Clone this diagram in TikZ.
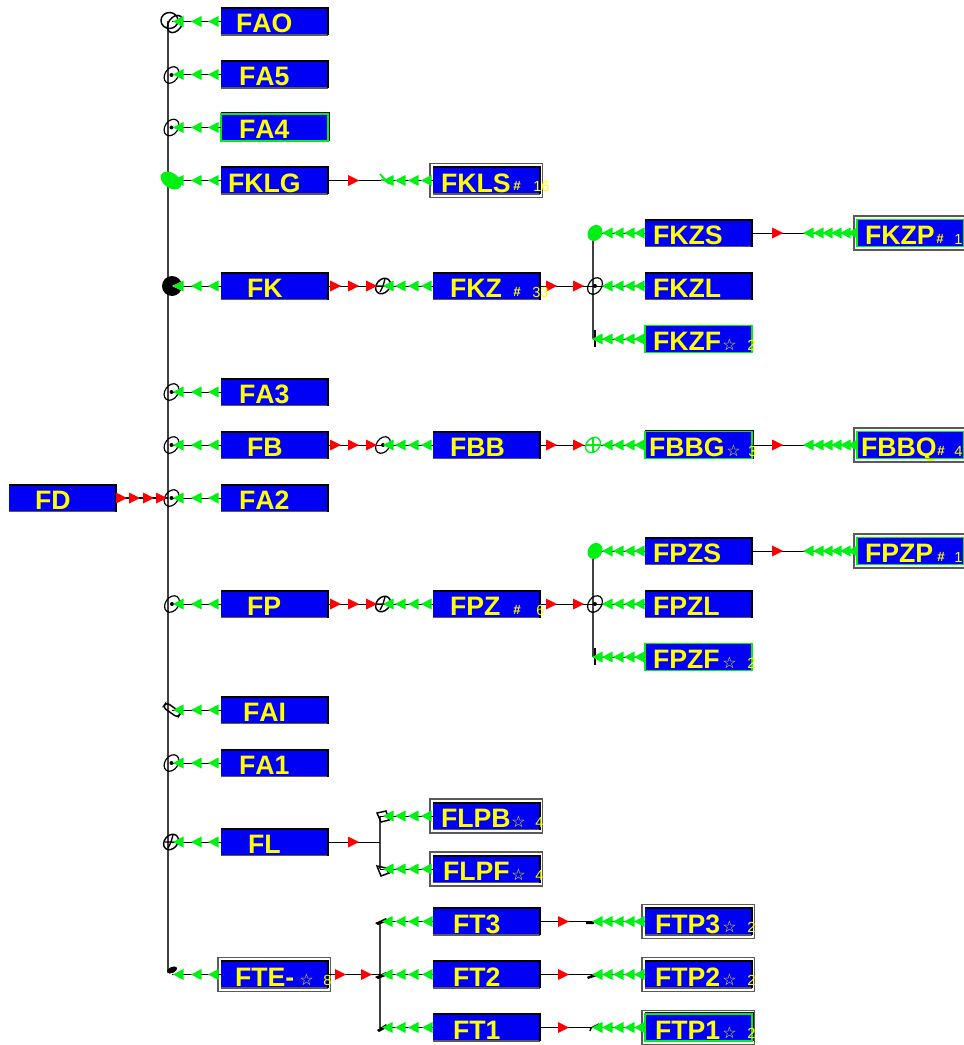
\documentclass[tikz,border=0pt]{standalone}
\usepackage{fontspec}
\setmainfont{Liberation Sans}
\newfontfamily\dejavu{DejaVu Sans}
\newfontfamily\nokern[Kerning=Off]{Liberation Sans}
\definecolor{gcol}{RGB}{0,240,20}
\definecolor{rcol}{RGB}{255,0,0}
\definecolor{bcol}{RGB}{0,0,245}
\definecolor{ycol}{RGB}{255,255,0}
\definecolor{frm}{RGB}{90,90,90}
\tikzset{
  boxnode/.style={rectangle,fill=bcol,inner sep=0pt,outer sep=0pt,text width=80.25pt,
    text height=18.75pt,text depth=1.5pt,text=ycol,align=left,
    font=\fontsize{20pt}{20pt}\nokern\bfseries},
  shadowline/.style={black,line width=1.5pt},
  bottomline/.style={frm,line width=0.8pt},
  greenedge/.style={gcol,line width=0.9pt},
  frameline/.style={frm,line width=1.0pt},
  conn/.style={black,line width=0.75pt},
  spine/.style={black!75,line width=1pt},
  jring/.style={black,line width=0.9pt},
  sfxtext/.style={inner sep=0pt,anchor=base west,text=ycol,font=\fontsize{11pt}{11pt}\selectfont},
  sfxhash/.style={inner sep=0pt,anchor=base west,text=ycol,font=\fontsize{10pt}{10pt}\selectfont\bfseries},
  sfxstar/.style={inner sep=0pt,anchor=base west,text=ycol,font=\fontsize{12pt}{12pt}\dejavu}
}
\newcommand{\bx}[5]{% name, x0, y, text x, label
  \node[boxnode] (#1) at ({#2+53.5},#3) {\hspace*{\dimexpr 0.75pt*\numexpr#4-#2\relax\relax}#5};
  \draw[bottomline] (#1.south west)--(#1.south east);
  \draw[shadowline] (#1.north west)--(#1.north east)--(#1.south east);
}
\newcommand{\gbx}[5]{% same box, green edge and no shadow
  \node[boxnode] (#1) at ({#2+53.5},#3) {\hspace*{\dimexpr 0.75pt*\numexpr#4-#2\relax\relax}#5};
  \draw[greenedge] (#1.north west) rectangle (#1.south east);
}
\newcommand{\gsbx}[5]{% green edge and a thin shadow outside it
  \node[boxnode] (#1) at ({#2+53.5},#3) {\hspace*{\dimexpr 0.75pt*\numexpr#4-#2\relax\relax}#5};
  \draw[black,line width=1pt] ([yshift=0.9pt]#1.north west)--([yshift=0.9pt,xshift=0.9pt]#1.north east)--([xshift=0.9pt]#1.south east);
  \draw[greenedge] (#1.north west) rectangle (#1.south east);
}
\newcommand{\dbl}[1]{\draw[frameline] ([shift={(-3,-3.5)}]#1.north west) rectangle ([shift={(2.5,3.5)}]#1.south east);}
\newcommand{\gr}[2]{\foreach \tx in {#2}{\fill[gcol] (\tx,#1)--(\tx+10.5,#1-5.5)--(\tx+10.5,#1+5.5)--cycle;}}
\newcommand{\rd}[2]{\foreach \tx in {#2}{\fill[rcol] (\tx,#1-5.5)--(\tx+11,#1)--(\tx,#1+5.5)--cycle;}}
\newcommand{\hashsfx}[5]{\node[sfxhash] (#1h) at (#2,#4+10) {\#};\node[sfxtext] (#1d) at (#3,#4+11) {#5};}
\newcommand{\starsfx}[5]{\node[sfxstar] (#1h) at (#2,#4+11) {☆};\node[sfxtext] (#1d) at (#3,#4+11) {#5};}
\newcommand{\ringA}[2]{% ellipse with dot
  \draw[jring,rotate around={55:(#1,#2)}] (#1,#2) ellipse (9 and 6.5);
  \fill[black] (#1,#2) circle (2);}
\newcommand{\ringB}[2]{% ellipse with spokes
  \draw[jring,line width=1.1pt,rotate around={50:(#1,#2)}] (#1,#2) ellipse (8.5 and 6.5);
  \draw[jring,line width=1pt] (#1-6,#2)--(#1+5,#2) (#1,#2)--(#1-3,#2+6) (#1,#2)--(#1+2,#2-7);}
\begin{document}
\begin{tikzpicture}[x=0.75pt,y=-0.75pt]
\useasboundingbox (0,0) rectangle (963,1045);
\fill[white] (0,0) rectangle (963,1045);
% boxes
\bx{FD}{9}{498}{35}{FD}
\bx{FAO}{221}{21.5}{236}{FAO}
\bx{FAf}{221}{74.5}{239}{FA5}
\gsbx{FAe}{221}{127.5}{239}{FA4}
\bx{FKLG}{221}{180.5}{228}{FKLG}
\bx{FK}{221}{286}{247}{FK}
\bx{FAd}{221}{392}{239}{FA3}
\bx{FB}{221}{445}{247}{FB}
\bx{FAb}{221}{498}{239}{FA2}
\bx{FP}{221}{604}{247}{FP}
\bx{FAI}{221}{710}{243}{FAI}
\bx{FAa}{221}{763}{239}{FA1}
\bx{FL}{221}{842}{248}{FL}
\bx{FTE}{221}{974.5}{235}{FTE-}
\bx{FKLS}{433}{180.5}{441}{FKLS}
\bx{FKZ}{433}{286}{450}{FKZ}
\bx{FBB}{433}{445}{450}{FBB}
\bx{FPZ}{433}{604}{450}{FPZ}
\bx{FLPB}{433}{816}{441}{FLPB}
\bx{FLPF}{433}{869}{443}{FLPF}
\bx{FTc}{433}{921.5}{453}{FT3}
\bx{FTb}{433}{974.5}{453}{FT2}
\bx{FTa}{433}{1027.5}{453}{FT1}
\bx{FKZS}{645}{233}{653}{FKZS}
\bx{FKZL}{645}{286}{653}{FKZL}
\gbx{FKZF}{645}{339}{653}{FKZF}
\gsbx{FBBG}{645}{445}{649}{FBBG}
\bx{FPZS}{645}{551}{653}{FPZS}
\bx{FPZL}{645}{604}{653}{FPZL}
\gbx{FPZF}{645}{657}{653}{FPZF}
\bx{FTPc}{645}{921.5}{655}{FTP3}
\bx{FTPb}{645}{974.5}{655}{FTP2}
\gsbx{FTPa}{645}{1027.5}{655}{FTP1}
\gbx{FKZP}{857}{233}{865}{FKZP}
\gbx{FBBQ}{857}{445}{861}{FBBQ}
\gbx{FPZP}{857}{551}{865}{FPZP}
% frames
\foreach \n in {FTE,FKLS,FLPB,FLPF,FTPc,FTPb,FTPa,FKZP,FBBQ,FPZP}{\dbl{\n}}
% junction coordinates
\coordinate (sT) at (168,21.5);
\coordinate (sB) at (168,971);
\foreach \n/\yy in {FAO/21.5,FAf/74.5,FAe/127.5,FKLG/180.5,FK/286,FAd/392,FB/445,FAb/498,FP/604,FAI/710,FAa/763,FL/842,FTE/974.5}{\coordinate (j\n) at (172,\yy);}
\coordinate (jFD) at (168,498);
\coordinate (sK1) at (593,233);
\coordinate (sK3) at (593,339);
\coordinate (sP1) at (593,551);
\coordinate (sP3) at (593,657);
\coordinate (sL1) at (380,816);
\coordinate (sL2) at (380,842);
\coordinate (sL3) at (380,869);
\coordinate (sT1) at (380,921.5);
\coordinate (sT3) at (380,1027.5);
% spines
\draw[spine] (sT)--(sB);
\draw[spine] (sK1)--(sK3);
\draw[spine] (sP1)--(sP3);
\draw[spine] (sL1)--(sL3);
\draw[spine] (sT1)--(sT3);
% connectors
\foreach \n in {FAO,FAf,FAe,FKLG,FK,FAd,FB,FAb,FP,FAI,FAa,FL,FTE}{\draw[conn] (\n.west)--(j\n);}
\draw[conn,line width=1.2pt] (FD.east)--(jFD);
\draw[conn] (FKLG.east)--(FKLS.west);
\draw[conn] (FK.east)--(FKZ.west);
\draw[conn] (FB.east)--(FBB.west);
\draw[conn] (FP.east)--(FPZ.west);
\draw[conn] (FL.east)--(sL2);
\draw[conn] (FTE.east)--(FTb.west);
\draw[conn] (FKZ.east)--(FKZL.west);
\draw[conn] (FBB.east)--(FBBG.west);
\draw[conn] (FPZ.east)--(FPZL.west);
\draw[conn] (FKZS.west)--(sK1);
\draw[conn] (FKZF.west)--(sK3);
\draw[conn] (FPZS.west)--(sP1);
\draw[conn] (FPZF.west)--(sP3);
\draw[conn] (FKZS.east)--(FKZP.west);
\draw[conn] (FBBG.east)--(FBBQ.west);
\draw[conn] (FPZS.east)--(FPZP.west);
\draw[conn] (FLPB.west)--(sL1);
\draw[conn] (FLPF.west)--(sL3);
\draw[conn] (FTc.west)--(sT1);
\draw[conn] (FTa.west)--(sT3);
\draw[conn] (FTc.east)--(FTPc.west);
\draw[conn] (FTb.east)--(FTPb.west);
\draw[conn] (FTa.east)--(FTPa.west);
% junction glyphs, main spine
\draw[jring,line width=1.1pt] (169.5,20.5) ellipse (8.5 and 8);
\draw[jring,line width=1.1pt,rotate around={55:(175,24)}] (175,24) ellipse (9.5 and 6.5);
\ringA{171.5}{75}
\ringA{171.5}{127.5}
\fill[gcol,rotate around={-35:(171,180.5)}] (171,180.5) ellipse (11.5 and 7.5);
\fill[black] (172,286) circle (10);
\fill[white] (172,286)--(183,281)--(183,291)--cycle;
\ringA{171.5}{392}
\ringA{171.5}{445}
\ringA{171.5}{498}
\ringA{172}{604}
\draw[jring,line width=1.1pt,rotate around={-35:(172,710)},rounded corners=2.5pt] (163,707) rectangle (181,713);
\ringA{171.5}{763}
\ringB{171}{842}
\fill[black,rotate around={25:(172,970)}] (172,970) ellipse (5.5 and 3);
% other junction glyphs
\draw[gcol,line width=1.4pt] (380,174)--(389,184) (381,180)--(391,180);
\ringB{383}{286}
\ringA{383}{445}
\ringB{383}{604}
\fill[gcol,rotate around={55:(595,233)}] (595,233) ellipse (8.5 and 7);
\ringA{595}{286}
\draw[black,line width=1.2pt] (595,330)--(595,347);
\draw[gcol,line width=1pt,rotate around={50:(593,445)}] (593,445) ellipse (8.5 and 6.5);
\draw[gcol,line width=1pt] (586,445)--(601,445) (593,437)--(593,453);
\fill[gcol,rotate around={55:(595,551)}] (595,551) ellipse (8.5 and 7);
\ringA{595}{604}
\draw[black,line width=1.2pt] (595,648)--(595,665);
\draw[jring,line width=1.1pt] (377,813)--(386,811)--(389,820)--(381,822)--cycle;
\draw[jring,line width=1.1pt] (377,866)--(386,868)--(389,873)--(381,876)--cycle;
\fill[black] (375,923)--(386,918)--(388,921)--(378,925)--cycle;
\fill[black] (375,977)--(386,972)--(388,975)--(378,979)--cycle;
\fill[black] (377,1030)--(386,1024)--(388,1027)--(379,1032)--cycle;
\fill[black] (586,922)--(594,921)--(594,924)--(586,924)--cycle;
\fill[black] (587,977)--(596,973)--(597,976)--(588,979)--cycle;
\draw[jring,line width=1.1pt] (590,1031)--(591,1028)--(599,1024);
% arrowheads
\rd{498}{116,129,143,156}
\gr{21.5}{173,191,208}\gr{74.5}{173,191,208}\gr{127.5}{173,191,208}\gr{180.5}{173,191,208}
\gr{286}{173,191,208}\gr{392}{173,191,208}\gr{445}{173,191,208}\gr{498}{173,191,208}
\gr{604}{173,191,208}\gr{710}{173,191,208}\gr{763}{173,191,208}\gr{842}{173,191,208}\gr{974.5}{173,191,208}
% second column
\rd{180.5}{348}
\rd{286}{330,348,366}\rd{445}{330,348,366}\rd{604}{330,348,366}
\rd{842}{348}
\rd{974.5}{335,361}
\gr{180.5}{383,395,408,421}\gr{286}{383,395,408,421}\gr{445}{383,395,408,421}\gr{604}{383,395,408,421}
\gr{816}{383,395,408,421}\gr{869}{383,395,408,421}
\gr{921.5}{382,395,408,422}\gr{974.5}{382,395,408,422}\gr{1027.5}{382,395,408,422}
% third column
\rd{286}{546,573}\rd{445}{546,573}\rd{604}{546,573}
\gr{233}{602,613,624,634}\gr{286}{602,613,624,634}\gr{445}{602,613,624,634}
\gr{551}{602,613,624,634}\gr{604}{602,613,624,634}
\gr{339}{592,602,613,624,634}\gr{657}{592,602,613,624,634}
\rd{921.5}{558}\rd{974.5}{558}\rd{1027.5}{558}
\gr{921.5}{592,602,613,624,634}\gr{974.5}{592,602,613,624,634}\gr{1027.5}{592,602,613,624,634}
% fourth column
\rd{233}{772}\rd{445}{772}\rd{551}{772}
\gr{233}{803,813,822,831,840,847}\gr{445}{803,813,822,831,840,847}\gr{551}{803,813,822,831,840,847}
% small suffixes
\hashsfx{FKLS}{513}{533}{180.5}{16}
\hashsfx{FKZ}{513}{532}{286}{33}
\hashsfx{FPZ}{513}{536}{604}{6}
\hashsfx{FKZP}{936}{954}{233}{1}
\hashsfx{FBBQ}{937}{954}{445}{4}
\hashsfx{FPZP}{937}{954}{551}{1}
\starsfx{FKZF}{722}{747}{339}{2}
\starsfx{FPZF}{722}{747}{657}{2}
\starsfx{FBBG}{726}{748}{445}{3}
\starsfx{FLPB}{511}{535}{816}{4}
\starsfx{FLPF}{511}{535}{869}{4}
\starsfx{FTE}{299}{323}{974.5}{8}
\starsfx{FTPc}{722}{747}{921.5}{2}
\starsfx{FTPb}{722}{747}{974.5}{2}
\starsfx{FTPa}{722}{747}{1027.5}{2}
\end{tikzpicture}
\end{document}
